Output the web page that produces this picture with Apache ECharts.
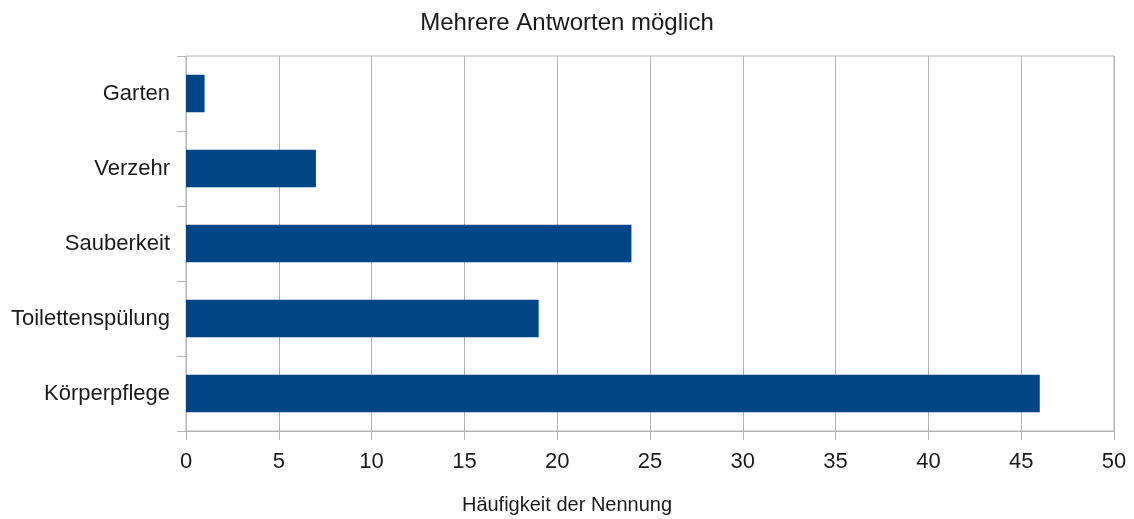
<!DOCTYPE html>
<html><head><meta charset="utf-8">
<script src="https://cdn.jsdelivr.net/npm/echarts@6/dist/echarts.min.js"></script>
<style>html,body{margin:0;padding:0;background:#fff}#c{width:1134px;height:519px}</style>
</head><body><div id="c"></div>
<script>
const categories = ['Körperpflege', 'Toilettenspülung', 'Sauberkeit', 'Verzehr', 'Garten'];
const values = [46, 19, 24, 7, 1];
const titleText = 'Mehrere Antworten möglich';
const xAxisName = 'Häufigkeit der Nennung';

const chart = echarts.init(document.getElementById('c'));
const font = 'Liberation Sans';
chart.setOption({
  animation: false,
  title: [
    { text: titleText, left: 'center', top: 6,
      textStyle: { fontFamily: font, fontSize: 24, fontWeight: 'normal', color: '#1a1a1a' } },
    { text: xAxisName, left: 'center', top: 490,
      textStyle: { fontFamily: font, fontSize: 20, fontWeight: 'normal', color: '#1a1a1a' } }
  ],
  grid: { left: 186, right: 20, top: 56, bottom: 88, show: true, borderColor: '#b3b3b3', borderWidth: 1 },
  xAxis: {
    type: 'value', min: 0, max: 50, interval: 5,
    axisLine: { show: true, lineStyle: { color: '#b3b3b3' } },
    axisTick: { show: true, length: 9, lineStyle: { color: '#b3b3b3' } },
    axisLabel: { fontFamily: font, fontSize: 22, color: '#1a1a1a', margin: 20 },
    splitLine: { show: true, lineStyle: { color: '#b3b3b3' } }
  },
  yAxis: {
    type: 'category', data: categories,
    axisLine: { show: true, lineStyle: { color: '#b3b3b3' } },
    axisTick: { show: true, length: 9, lineStyle: { color: '#b3b3b3' } },
    axisLabel: { fontFamily: font, fontSize: 22, color: '#1a1a1a', margin: 16 },
    splitLine: { show: false }
  },
  series: [{ type: 'bar', data: values, barWidth: '50%', itemStyle: { color: '#004586' } }]
});
</script></body></html>
